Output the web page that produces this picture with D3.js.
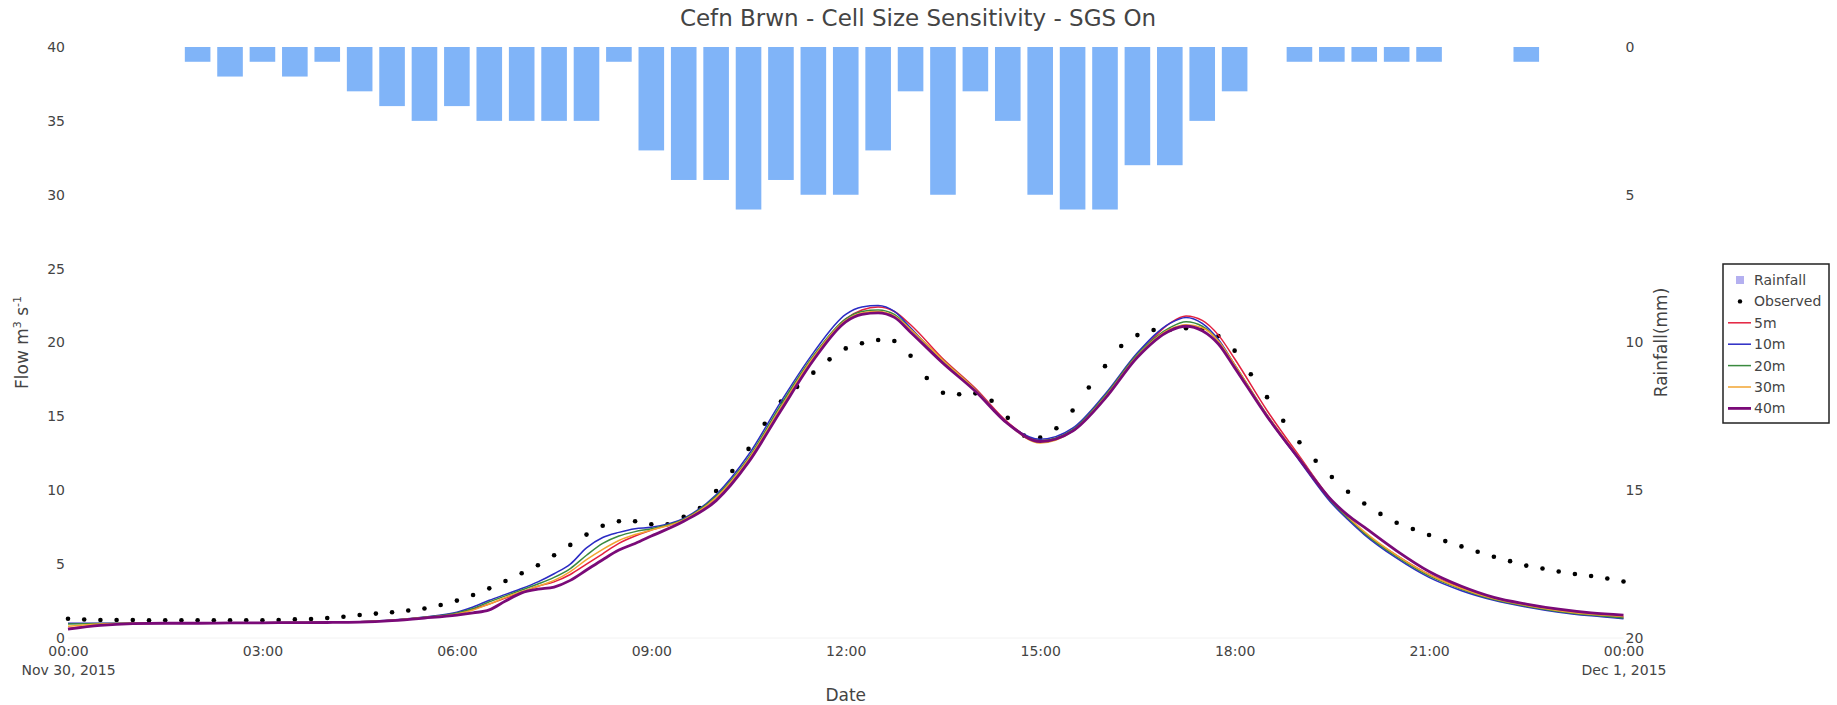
<!DOCTYPE html>
<html>
<head>
<meta charset="utf-8">
<script src="https://cdn.jsdelivr.net/npm/d3@7"></script>
<style>
  html, body { margin: 0; padding: 0; background: #fff; }
  svg text { font-family: "DejaVu Sans", Verdana, sans-serif; fill: #444; }
</style>
</head>
<body>
<svg id="chart" width="1837" height="705"></svg>
<script>
// ---- data -------------------------------------------------------------
const startTime = new Date(2015, 10, 30, 0, 0);   // Nov 30, 2015 00:00

// rainfall (mm) per half hour, bar centred on the time (hours after start)
const rainHours = [2, 2.5, 3, 3.5, 4, 4.5, 5, 5.5, 6, 6.5, 7, 7.5, 8, 8.5, 9, 9.5, 10, 10.5, 11, 11.5,
  12, 12.5, 13, 13.5, 14, 14.5, 15, 15.5, 16, 16.5, 17, 17.5, 18, 18.5, 19, 19.5, 20, 20.5, 21, 21.5, 22, 22.5];
const rainMm = [0.5, 1.0, 0.5, 1.0, 0.5, 1.5, 2.0, 2.5, 2.0, 2.5, 2.5, 2.5, 2.5, 0.5, 3.5, 4.5, 4.5, 5.5, 4.5, 5.0,
  5.0, 3.5, 1.5, 5.0, 1.5, 2.5, 5.0, 5.5, 5.5, 4.0, 4.0, 2.5, 1.5, 0, 0.5, 0.5, 0.5, 0.5, 0.5, 0, 0, 0.5];

// observed flow (m3/s), every 15 minutes from the start
const obsStepMinutes = 15;
const observed = [1.3, 1.25, 1.22, 1.22, 1.22, 1.2, 1.2, 1.2, 1.2, 1.2, 1.2, 1.2, 1.2, 1.22,
  1.26, 1.28, 1.35, 1.44, 1.56, 1.65, 1.74, 1.86, 2.0, 2.23, 2.53, 2.91, 3.36, 3.86, 4.38, 4.92,
  5.6, 6.3, 7.0, 7.6, 7.9, 7.9, 7.7, 7.7, 8.2, 8.8, 9.95, 11.3, 12.8, 14.5, 16.0, 17.0, 17.96, 18.86,
  19.6, 19.95, 20.17, 20.1, 19.1, 17.6, 16.6, 16.5, 16.56, 16.06, 14.9, 13.7, 13.56, 14.2, 15.4, 16.95,
  18.4, 19.76, 20.5, 20.85, 20.85, 20.96, 20.9, 20.44, 19.45, 17.85, 16.3, 14.7, 13.25, 12.0, 10.9, 9.9,
  9.1, 8.4, 7.8, 7.38, 6.97, 6.56, 6.2, 5.84, 5.5, 5.2, 4.9, 4.7, 4.5, 4.33, 4.2, 4.03, 3.82];

// modelled flow (m3/s) for each cell size
const modelHours = [0, 0.5, 1, 1.5, 2, 2.5, 3, 3.5, 4, 4.5, 5, 5.5, 6, 6.25, 6.5, 6.75, 7, 7.25, 7.5, 7.75,
  8, 8.25, 8.5, 8.75, 9, 9.5, 10, 10.5, 11, 11.5, 12, 12.25, 12.5, 12.75, 13, 13.5, 14, 14.5, 15, 15.5,
  16, 16.5, 17, 17.25, 17.5, 17.75, 18, 18.5, 19, 19.5, 19.75, 20, 20.5, 21, 21.5, 22, 22.5, 23, 23.5, 24];
const flow5m = [0.65, 0.9, 0.98, 1.0, 1.02, 1.03, 1.04, 1.05, 1.06, 1.1, 1.2, 1.38, 1.65, 1.95, 2.3, 2.7, 3.1, 3.5, 3.8, 4.3,
  5.0, 5.7, 6.4, 6.9, 7.3, 8.0, 9.5, 12.0, 15.6, 19.0, 21.6, 22.2, 22.4, 22.1, 21.2, 18.9, 16.9, 14.6, 13.35, 14.0,
  16.3, 19.1, 21.3, 21.8, 21.5, 20.5, 18.9, 15.4, 12.3, 9.3, 8.1, 7.1, 5.6, 4.3, 3.4, 2.7, 2.2, 1.85, 1.6, 1.4];
const flow10m = [1.0, 1.0, 1.0, 1.0, 1.02, 1.03, 1.04, 1.05, 1.06, 1.1, 1.22, 1.42, 1.75, 2.1, 2.55, 2.95, 3.35, 3.8, 4.35, 5.0,
  6.1, 6.8, 7.15, 7.4, 7.5, 8.1, 9.7, 12.4, 16.0, 19.3, 21.9, 22.4, 22.5, 22.1, 21.0, 18.7, 16.8, 14.5, 13.45, 14.2,
  16.5, 19.3, 21.3, 21.7, 21.3, 20.2, 18.5, 15.0, 12.0, 9.1, 8.0, 7.0, 5.4, 4.1, 3.2, 2.55, 2.1, 1.75, 1.5, 1.3];
const flow20m = [0.95, 0.98, 1.0, 1.0, 1.02, 1.03, 1.04, 1.05, 1.06, 1.1, 1.2, 1.4, 1.7, 2.0, 2.45, 2.85, 3.25, 3.65, 4.1, 4.7,
  5.6, 6.4, 6.9, 7.2, 7.4, 8.05, 9.6, 12.2, 15.8, 19.1, 21.6, 22.1, 22.2, 21.9, 20.9, 18.8, 16.8, 14.5, 13.35, 14.1,
  16.4, 19.2, 21.0, 21.4, 21.1, 20.1, 18.5, 15.1, 12.1, 9.2, 8.1, 7.1, 5.5, 4.2, 3.3, 2.6, 2.15, 1.8, 1.55, 1.35];
const flow30m = [0.8, 0.95, 1.0, 1.0, 1.02, 1.03, 1.04, 1.05, 1.06, 1.1, 1.2, 1.38, 1.62, 1.9, 2.3, 2.75, 3.15, 3.5, 3.9, 4.5,
  5.3, 6.0, 6.6, 7.0, 7.3, 8.0, 9.5, 12.1, 15.6, 19.0, 21.5, 22.0, 22.1, 21.8, 20.9, 18.8, 16.8, 14.5, 13.2, 14.0,
  16.3, 19.1, 20.9, 21.2, 21.0, 20.1, 18.5, 15.1, 12.2, 9.3, 8.2, 7.2, 5.6, 4.3, 3.35, 2.65, 2.2, 1.85, 1.6, 1.45];
const flow40m = [0.6, 0.85, 0.97, 1.0, 1.0, 1.02, 1.03, 1.04, 1.05, 1.08, 1.18, 1.35, 1.55, 1.7, 1.9, 2.5, 3.05, 3.3, 3.45, 3.9,
  4.6, 5.3, 5.95, 6.4, 6.9, 7.9, 9.3, 11.9, 15.4, 18.8, 21.4, 21.9, 22.0, 21.7, 20.7, 18.6, 16.7, 14.5, 13.3, 14.0,
  16.2, 19.0, 20.8, 21.1, 20.8, 19.9, 18.3, 15.0, 12.1, 9.3, 8.3, 7.5, 5.9, 4.5, 3.5, 2.75, 2.3, 1.95, 1.7, 1.55];

const seriesNames = ["5m", "10m", "20m", "30m", "40m"];
const seriesValues = [flow5m, flow10m, flow20m, flow30m, flow40m];
const seriesColors = ["#e3203f", "#2b2bc4", "#3a8a3f", "#f2a531", "#7a0a78"];
const seriesWidths = [1.5, 1.5, 1.5, 1.5, 2.8];

const flowTicks = [0, 5, 10, 15, 20, 25, 30, 35, 40];
const rainTicks = [0, 5, 10, 15, 20];

const titleText = "Cefn Brwn - Cell Size Sensitivity - SGS On";

// ---- layout -----------------------------------------------------------
const svg = d3.select("#chart");
const plot = { left: 68, right: 1623.5, top: 47, bottom: 638 };

const hoursToDate = h => new Date(startTime.getTime() + h * 3600e3);
const endTime = hoursToDate(24);

const x = d3.scaleTime().domain([startTime, endTime]).range([plot.left, plot.right]);
const yFlow = d3.scaleLinear().domain([0, 40]).range([plot.bottom, plot.top]);
const yRain = d3.scaleLinear().domain([0, 20]).range([plot.top, plot.bottom]);

// faint baseline
svg.append("line")
  .attr("x1", plot.left).attr("x2", plot.right)
  .attr("y1", plot.bottom).attr("y2", plot.bottom)
  .attr("stroke", "#f2f2f2").attr("stroke-width", 1);

// ---- rainfall bars (hanging from the top) ------------------------------
const halfHourPx = x(hoursToDate(0.5)) - x(hoursToDate(0));
const barW = halfHourPx * 0.79;
svg.append("g").selectAll("rect")
  .data(rainHours.map((h, i) => ({ t: hoursToDate(h), v: rainMm[i] })).filter(d => d.v > 0))
  .join("rect")
  .attr("x", d => x(d.t) - barW / 2)
  .attr("y", yRain(0))
  .attr("width", barW)
  .attr("height", d => yRain(d.v) - yRain(0))
  .attr("fill", "#80b4f8");

// ---- observed points ---------------------------------------------------
svg.append("g").selectAll("circle")
  .data(observed.map((v, i) => ({ t: hoursToDate(i * obsStepMinutes / 60), v })))
  .join("circle")
  .attr("cx", d => x(d.t))
  .attr("cy", d => yFlow(d.v))
  .attr("r", 2.3)
  .attr("fill", "#000");

// ---- modelled lines -----------------------------------------------------
const line = d3.line()
  .x(d => x(d.t))
  .y(d => yFlow(d.v))
  .curve(d3.curveMonotoneX);

seriesValues.forEach((vals, k) => {
  svg.append("path")
    .datum(modelHours.map((h, i) => ({ t: hoursToDate(h), v: vals[i] })))
    .attr("d", line)
    .attr("fill", "none")
    .attr("stroke", seriesColors[k])
    .attr("stroke-width", seriesWidths[k])
    .attr("stroke-linejoin", "round");
});

// ---- axes ---------------------------------------------------------------
const tickFont = "DejaVu Sans, Verdana, sans-serif";
const leftAxis = d3.axisLeft(yFlow).tickValues(flowTicks).tickSize(0).tickPadding(2);
const gL = svg.append("g").attr("transform", `translate(${plot.left - 1},0)`).call(leftAxis);
gL.select(".domain").remove();
gL.selectAll("text").attr("font-size", 14).attr("fill", "#444").style("font-family", tickFont);

const rightAxis = d3.axisRight(yRain).tickValues(rainTicks).tickSize(0).tickPadding(2);
const gR = svg.append("g").attr("transform", `translate(${plot.right},0)`).call(rightAxis);
gR.select(".domain").remove();
gR.selectAll("text").attr("font-size", 14).attr("fill", "#444").style("font-family", tickFont);

const timeTicks = d3.range(0, 25, 3).map(hoursToDate);
const fmtTime = d3.timeFormat("%H:%M");
const fmtDay = d3.timeFormat("%b %-d, %Y");
const bottomAxis = d3.axisBottom(x).tickValues(timeTicks).tickSize(0).tickPadding(8).tickFormat(fmtTime);
const gB = svg.append("g").attr("transform", `translate(0,${plot.bottom})`).call(bottomAxis);
gB.select(".domain").remove();
gB.selectAll("text").attr("font-size", 14).attr("fill", "#444").style("font-family", tickFont);
gB.selectAll(".tick").each(function (d, i, nodes) {
  if (i === 0 || i === nodes.length - 1) {
    d3.select(this).append("text")
      .attr("y", 37)
      .attr("text-anchor", "middle")
      .attr("font-size", 14)
      .attr("fill", "#444")
      .style("font-family", tickFont)
      .text(fmtDay(d));
  }
});

// axis titles
svg.append("text")
  .attr("x", (plot.left + plot.right) / 2).attr("y", 701)
  .attr("text-anchor", "middle").attr("font-size", 17)
  .text("Date");

const flowTitle = svg.append("text")
  .attr("transform", `translate(28,${(plot.top + plot.bottom) / 2}) rotate(-90)`)
  .attr("text-anchor", "middle").attr("font-size", 17);
flowTitle.append("tspan").text("Flow m");
flowTitle.append("tspan").attr("font-size", 11).attr("dy", -7).text("3");
flowTitle.append("tspan").attr("dy", 7).text(" s");
flowTitle.append("tspan").attr("font-size", 11).attr("dy", -7).text("-1");

svg.append("text")
  .attr("transform", `translate(1667,${(plot.top + plot.bottom) / 2}) rotate(-90)`)
  .attr("text-anchor", "middle").attr("font-size", 17)
  .text("Rainfall(mm)");

// chart title
svg.append("text")
  .attr("x", 918).attr("y", 26)
  .attr("text-anchor", "middle").attr("font-size", 23)
  .text(titleText);

// ---- legend -------------------------------------------------------------
const legend = svg.append("g").attr("transform", "translate(1723,264)");
legend.append("rect")
  .attr("x", 0).attr("y", 0).attr("width", 106).attr("height", 159)
  .attr("fill", "#fff").attr("stroke", "#222").attr("stroke-width", 1.5);

const legendItems = [{ name: "Rainfall", kind: "bar" }, { name: "Observed", kind: "dot" }]
  .concat(seriesNames.map((n, k) => ({ name: n, kind: "line", k })));
const rowH = 21.4;
legendItems.forEach((it, i) => {
  const cy = 16 + i * rowH;
  const g = legend.append("g");
  if (it.kind === "bar") {
    g.append("rect").attr("x", 13).attr("y", cy - 4).attr("width", 8).attr("height", 8).attr("fill", "#b4b0f0");
  } else if (it.kind === "dot") {
    g.append("circle").attr("cx", 17).attr("cy", cy).attr("r", 2.2).attr("fill", "#000");
  } else {
    g.append("line").attr("x1", 5).attr("x2", 28).attr("y1", cy).attr("y2", cy)
      .attr("stroke", seriesColors[it.k]).attr("stroke-width", seriesWidths[it.k]);
  }
  g.append("text").attr("x", 31).attr("y", cy).attr("dy", "0.35em")
    .attr("font-size", 14).text(it.name);
});
</script>
</body>
</html>
